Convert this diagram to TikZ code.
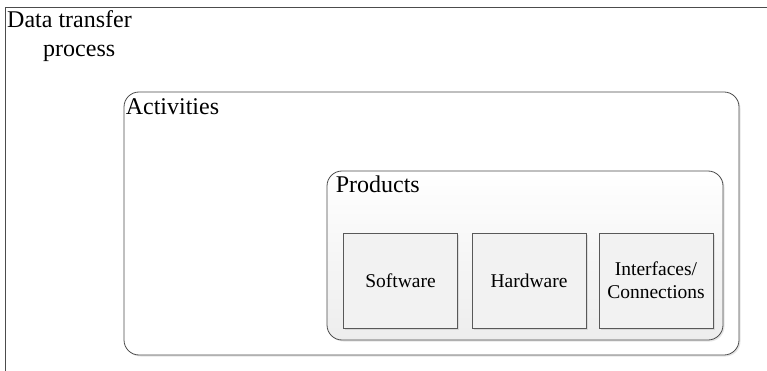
\documentclass[tikz,border=0pt]{standalone}
\usepackage{fontspec}
\setmainfont{Liberation Serif}
\usetikzlibrary{shadows}
\begin{document}
\begin{tikzpicture}[x=1pt,y=-1pt,
  frame/.style={draw=black!70,line width=0.9pt},
  group/.style={draw=black!70,line width=0.8pt,rounded corners=15pt,inner sep=0pt,
    drop shadow={shadow xshift=1.5pt,shadow yshift=-1.5pt,opacity=0.25,fill=black!40}},
  item/.style={draw=black!65,line width=0.7pt,fill=black!5,minimum width=114pt,
    minimum height=95pt,inner sep=0pt,align=center,
    font=\fontsize{19.5}{23}\selectfont,
    drop shadow={shadow xshift=1.5pt,shadow yshift=-1.5pt,opacity=0.25,fill=black!40}},
  title/.style={anchor=base west,inner sep=0pt,font=\fontsize{24}{29}\selectfont}]
\useasboundingbox (0,0) rectangle (767,371);

% outer process frame, open to the right and bottom
\draw[frame] (767,7) -- (5,7) -- (5,371);
\node[title,anchor=north west,align=left] (proc) at (7,10) {Data transfer\\\hspace*{36pt}process};

% activities
\node[group,fill=white,minimum width=615pt,minimum height=263pt] (act) at (431.5,223.5) {};
\node[title] (acttitle) at ([xshift=2pt,yshift=-23pt]act.north west) {Activities};

% products
\node[group,top color=white,bottom color=black!7,minimum width=396pt,minimum height=169pt] (prod) at (525,255.5) {};
\node[title] (prodtitle) at ([xshift=9pt,yshift=-22pt]prod.north west) {Products};

\foreach \n/\x/\t in {soft/400.5/Software,hard/529/Hardware,conn/656/{Interfaces/\\Connections}} {
  \node[item] (\n) at (\x,280.5) {\t};
}
\end{tikzpicture}
\end{document}
